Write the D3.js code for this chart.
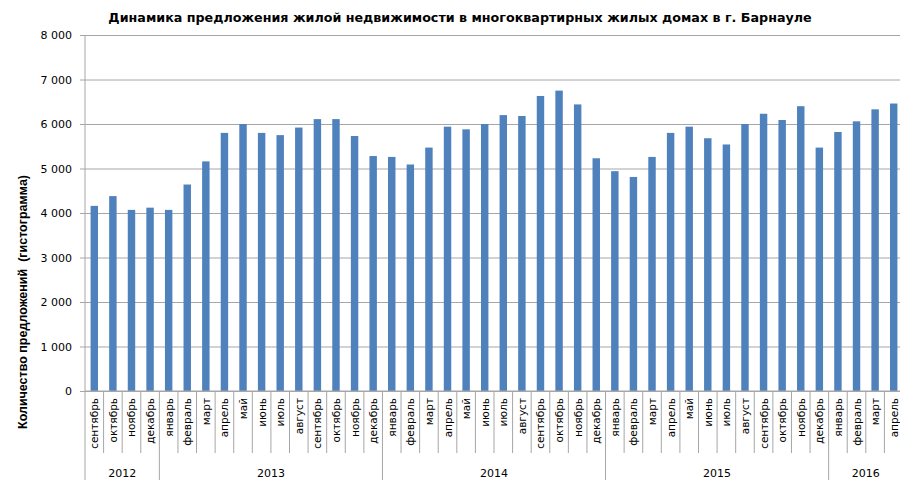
<!DOCTYPE html>
<html>
<head>
<meta charset="utf-8">
<script src="https://cdn.jsdelivr.net/npm/d3@7"></script>
<style>
  body { margin: 0; background: #fff; }
  text { font-family: "DejaVu Sans", sans-serif; fill: #000; }
</style>
</head>
<body>
<svg id="chart" width="900" height="485"></svg>
<script>
// data
const years = ['2012', '2013', '2014', '2015', '2016'];
const monthsPerYear = [
  ['сентябрь', 'октябрь', 'ноябрь', 'декабрь'],
  ['январь', 'февраль', 'март', 'апрель', 'май', 'июнь', 'июль', 'август', 'сентябрь', 'октябрь', 'ноябрь', 'декабрь'],
  ['январь', 'февраль', 'март', 'апрель', 'май', 'июнь', 'июль', 'август', 'сентябрь', 'октябрь', 'ноябрь', 'декабрь'],
  ['январь', 'февраль', 'март', 'апрель', 'май', 'июнь', 'июль', 'август', 'сентябрь', 'октябрь', 'ноябрь', 'декабрь'],
  ['январь', 'февраль', 'март', 'апрель']
];
const offers = [
  4160, 4380, 4070, 4120,
  4070, 4640, 5160, 5800, 6000, 5800, 5750, 5920, 6110, 6110, 5730, 5280,
  5260, 5090, 5470, 5940, 5880, 6000, 6200, 6180, 6630, 6750, 6440, 5230,
  4940, 4810, 5260, 5800, 5940, 5680, 5540, 6000, 6230, 6090, 6400, 5470,
  5820, 6060, 6330, 6460
];
const yTicks = [0, 1000, 2000, 3000, 4000, 5000, 6000, 7000, 8000];
const title = 'Динамика предложения жилой недвижимости в многоквартирных жилых домах в г. Барнауле';
const yTitle = 'Количество предложений  (гистограмма)';

const margin = {left: 85, top: 35, right: -3, bottom: 94};
const width = 900, height = 485;
const innerWidth = width - margin.left - margin.right;
const innerHeight = height - margin.top - margin.bottom;

// flatten categories
const cats = [];
monthsPerYear.forEach((ms, yi) => ms.forEach(m => cats.push({year: years[yi], month: m, key: years[yi] + '-' + m})));
cats.forEach((c, i) => c.value = offers[i]);

const svg = d3.select('#chart');
const g = svg.append('g').attr('transform', `translate(${margin.left},${margin.top})`);

const xScale = d3.scaleBand()
  .domain(cats.map(d => d.key))
  .range([0, innerWidth])
  .paddingInner(0.6)
  .paddingOuter(0.3);

const step = xScale.step();

const yScale = d3.scaleLinear()
  .domain([0, 8000])
  .range([innerHeight, 0]);

const fmt = v => d3.format(',')(v).replace(/,/g, ' ');

const yAxis = d3.axisLeft(yScale)
  .tickValues(yTicks)
  .tickSize(-innerWidth)
  .tickPadding(8)
  .tickFormat(fmt);

const yAxisG = g.append('g').attr('class', 'yAxis').call(yAxis);
yAxisG.select('.domain').remove();
yAxisG.selectAll('.tick line').attr('stroke', '#a6a6a6').attr('x1', -5);
yAxisG.selectAll('.tick text').attr('font-size', 11).attr('fill', '#000').attr('x', -13);

// vertical axis line
g.append('line')
  .attr('x1', 0).attr('x2', 0)
  .attr('y1', 0).attr('y2', innerHeight + 89)
  .attr('stroke', '#a6a6a6');

// bars
g.selectAll('.bar').data(cats).enter().append('rect')
  .attr('class', 'bar')
  .attr('x', d => xScale(d.key))
  .attr('width', xScale.bandwidth())
  .attr('y', d => yScale(d.value))
  .attr('height', d => innerHeight - yScale(d.value))
  .attr('fill', '#4f81bd');

// category separators
const xAxisG = g.append('g').attr('class', 'xAxis').attr('transform', `translate(0,${innerHeight})`);
xAxisG.append('line')
  .attr('x1', 0).attr('x2', innerWidth)
  .attr('stroke', '#a6a6a6');

cats.forEach((c, i) => {
  if (i === 0) return;
  const first = cats[i - 1].year !== c.year;
  xAxisG.append('line')
    .attr('x1', i * step).attr('x2', i * step)
    .attr('y1', 0).attr('y2', first ? 89 : 62)
    .attr('stroke', '#a6a6a6');
});

// month labels
xAxisG.selectAll('.month').data(cats).enter().append('text')
  .attr('class', 'month')
  .attr('transform', d => `translate(${xScale(d.key) + xScale.bandwidth() / 2 + 4},7) rotate(-90)`)
  .attr('text-anchor', 'end')
  .attr('font-size', 10.5)
  .text(d => d.month);

// year labels
let idx = 0;
monthsPerYear.forEach((ms, yi) => {
  const x0 = idx * step, x1 = (idx + ms.length) * step;
  xAxisG.append('text')
    .attr('x', (x0 + x1) / 2)
    .attr('y', 86)
    .attr('text-anchor', 'middle')
    .attr('font-size', 11)
    .text(years[yi]);
  idx += ms.length;
});

// title
svg.append('text')
  .attr('x', 460)
  .attr('y', 22)
  .attr('text-anchor', 'middle')
  .attr('font-size', 12.7)
  .attr('font-weight', 'bold')
  .text(title);

// y title
svg.append('text')
  .attr('transform', 'translate(27,302) rotate(-90)')
  .attr('text-anchor', 'middle')
  .style('font-family', '"Liberation Sans", Arial, sans-serif')
  .style('white-space', 'pre')
  .attr('font-size', 12.5)
  .attr('font-weight', 'bold')
  .text(yTitle);
</script>
</body>
</html>
